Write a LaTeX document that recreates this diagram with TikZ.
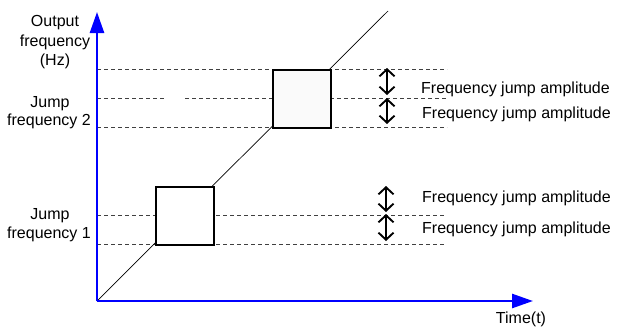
\documentclass[tikz,border=0pt]{standalone}
\usepackage{fontspec}
\setmainfont{Liberation Sans}
\usetikzlibrary{arrows.meta}
\begin{document}
\begin{tikzpicture}[x=1pt,y=-1pt,
  lbl/.style={inner sep=0pt,font=\fontsize{16}{19}\selectfont},
  axis/.style={draw=blue,line width=2.6pt,-{Triangle[length=21pt,width=14pt]}},
  guide/.style={draw=black!75,line width=0.7pt,dash pattern=on 4pt off 3pt},
  jumpbox/.style={draw=black,line width=2.2pt,minimum width=58pt,minimum height=58pt,inner sep=0pt,anchor=north west},
  amp/.style={draw=black,line width=1.9pt,{Straight Barb[length=7pt,width=15pt]}-{Straight Barb[length=7pt,width=15pt]}},
  diag/.style={draw=black,line width=0.7pt}]
\useasboundingbox (0,0) rectangle (619,335);
% coordinates
\coordinate (O) at (97,301);
\coordinate (Ytip) at (97,12);
\coordinate (Xtip) at (533,301);
\coordinate (Dend) at (388,11);
% guide lines
\coordinate (g1a) at (97,69);   \coordinate (g1b) at (447,69);
\coordinate (g2a) at (97,98);   \coordinate (g2b) at (165,98);
\coordinate (g2c) at (185,98);  \coordinate (g2d) at (272,98);
\coordinate (g2e) at (330,98);  \coordinate (g2f) at (447,98);
\coordinate (g3a) at (97,127);  \coordinate (g3b) at (447,127);
\coordinate (g4a) at (97,215);  \coordinate (g4b) at (445,215);
\coordinate (g5a) at (97,244);  \coordinate (g5b) at (445,244);
\draw[guide] (g1a) -- (g1b);
\draw[guide] (g2a) -- (g2b);
\draw[guide] (g2c) -- (g2d);
\draw[guide] (g2e) -- (g2f);
\draw[guide] (g3a) -- (g3b);
\draw[guide] (g4a) -- (g4b);
\draw[guide] (g5a) -- (g5b);
% diagonal
\draw[diag] (O) -- (Dend);
% boxes
\node[jumpbox,fill=white] (box1) at (155,186) {};
\node[jumpbox,fill=black!2] (box2) at (272,69) {};
% axes
\draw[axis] (O) -- (Ytip);
\draw[axis] (O) -- (Xtip);
% amplitude arrows
\coordinate (a1t) at (387,68);  \coordinate (a1b) at (387,95);
\coordinate (a2t) at (387,98);  \coordinate (a2b) at (387,124);
\coordinate (a3t) at (386,186); \coordinate (a3b) at (386,212);
\coordinate (a4t) at (386,214); \coordinate (a4b) at (386,241);
\draw[amp] (a1t) -- (a1b);
\draw[amp] (a2t) -- (a2b);
\draw[amp] (a3t) -- (a3b);
\draw[amp] (a4t) -- (a4b);
% labels right
\node[lbl,anchor=base west] (t1) at (421,93) {Frequency jump amplitude};
\node[lbl,anchor=base west] (t2) at (422,118) {Frequency jump amplitude};
\node[lbl,anchor=base west] (t3) at (422,202) {Frequency jump amplitude};
\node[lbl,anchor=base west] (t4) at (422,233) {Frequency jump amplitude};
% left labels
\node[lbl,anchor=base] (out1) at (55,26) {Output};
\node[lbl,anchor=base] (out2) at (55,46) {frequency};
\node[lbl,anchor=base] (out3) at (55,65) {(Hz)};
\node[lbl,anchor=base] (jf2a) at (50,107) {Jump};
\node[lbl,anchor=base] (jf2b) at (49,125) {frequency 2};
\node[lbl,anchor=base] (jf1a) at (50,219) {Jump};
\node[lbl,anchor=base] (jf1b) at (49,238) {frequency 1};
\node[lbl,anchor=base] (time) at (521,323) {Time(t)};
\end{tikzpicture}
\end{document}
